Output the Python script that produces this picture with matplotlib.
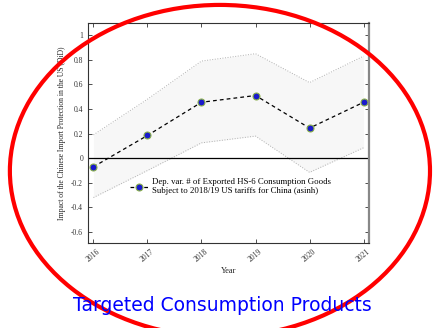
import numpy as np
import matplotlib
matplotlib.use("Agg")
import matplotlib.pyplot as plt
from matplotlib.patches import Ellipse

years = [2016, 2017, 2018, 2019, 2020, 2021]
coef = [-0.07, 0.185, 0.455, 0.51, 0.245, 0.455]
ci_upper = [0.19, 0.48, 0.79, 0.85, 0.615, 0.83]
ci_lower = [-0.32, -0.10, 0.125, 0.18, -0.115, 0.085]

legend_label = ("Dep. var. # of Exported HS-6 Consumption Goods\n"
                "Subject to 2018/19 US tariffs for China (asinh)")

plt.rcParams['font.family'] = ['Liberation Serif', 'DejaVu Serif']

fig = plt.figure(figsize=(4.39, 3.28), dpi=100)
ax = fig.add_axes([0.2005, 0.259, 0.64, 0.671])

# confidence band
ax.fill_between(years, ci_lower, ci_upper, color='#f7f7f7', lw=0)
ax.plot(years, ci_upper, ls=':', color='#b0b0b0', lw=0.7)
ax.plot(years, ci_lower, ls=':', color='#b0b0b0', lw=0.7)
ax.axhline(0, color='black', lw=0.9)
ax.plot(years, coef, ls='--', color='black', lw=0.9, dashes=(3, 2.5),
        marker='o', markersize=5, markerfacecolor='#1a1acc',
        markeredgecolor='#8ab04a', markeredgewidth=0.8, label=legend_label)

ax.set_xlim(2015.9, 2021.1)
ax.set_ylim(-0.69, 1.1)
ax.set_xticks(years)
ax.set_yticks([-0.6, -0.4, -0.2, 0, 0.2, 0.4, 0.6, 0.8, 1])
ax.set_yticklabels(['-0.6', '-0.4', '-0.2', '0', '0.2', '0.4', '0.6', '0.8', '1'])
ax.tick_params(direction='in', top=True, right=True, labelsize=5.5,
               colors='#333333', length=3, width=0.6)
for lab in ax.get_xticklabels():
    lab.set_rotation(40)
    lab.set_ha('center')
for side in ['left', 'bottom', 'top']:
    ax.spines[side].set_color('#333333')
    ax.spines[side].set_linewidth(0.8)
ax.spines['right'].set_color('#888888')
ax.spines['right'].set_linewidth(1.6)

ax.set_xlabel('Year', fontsize=6, color='#222222', labelpad=2)
ax.set_ylabel('Impact of the Chinese Import Protection in the US (DiD)',
              fontsize=5.5, color='#222222', labelpad=4)

ax.legend(loc='upper left', bbox_to_anchor=(0.12, 0.33), frameon=False,
          fontsize=6.3, handlelength=2.2, handletextpad=0.4)

fig.text(0.506, 0.07, 'Targeted Consumption Products', color='#0000ff',
         fontsize=13.5, ha='center', va='center', family='DejaVu Sans')

ring = Ellipse((0.501, 0.479), 0.957, 1.012, transform=fig.transFigure,
               fill=False, edgecolor='#ff0000', lw=3)
fig.add_artist(ring)

fig.savefig('out.png', dpi=100)
